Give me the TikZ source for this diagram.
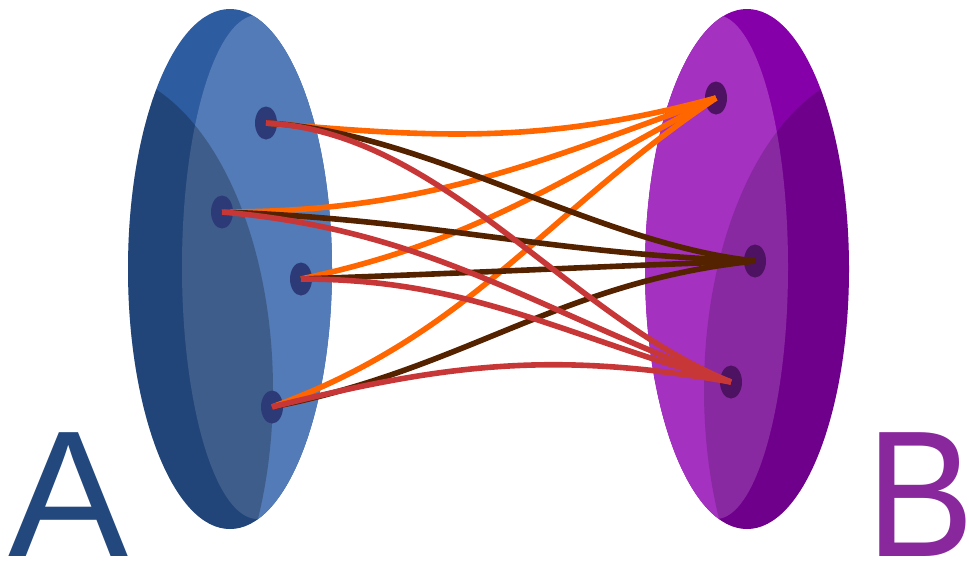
\documentclass[tikz,border=0pt]{standalone}
\usepackage{fontspec}
\setmainfont{Liberation Sans}
\usetikzlibrary{shapes.geometric}
\definecolor{blueback}{HTML}{2D5CA0}
\definecolor{bluefront}{HTML}{537BB7}
\definecolor{bluedot}{HTML}{2C3A78}
\definecolor{blueletter}{HTML}{22487E}
\definecolor{purpleback}{HTML}{8500A8}
\definecolor{purplefront}{HTML}{A431C0}
\definecolor{purpledot}{HTML}{4E1263}
\definecolor{purpleletter}{HTML}{88289C}
\definecolor{linkorange}{HTML}{FF6600}
\definecolor{linkbrown}{HTML}{552200}
\definecolor{linkred}{HTML}{C83737}
\begin{document}
\begin{tikzpicture}[x=0.5pt,y=-0.5pt,
  dot/.style={ellipse, inner sep=0, minimum width=11pt, minimum height=16.5pt},
  link/.style={line width=2.8pt},
  letter/.style={anchor=base, inner sep=0, font=\fontsize{90}{90}\selectfont}]
\useasboundingbox (0,0) rectangle (969,563);
% set A
\fill[blueback] (230,269) ellipse [x radius=102, y radius=260];
\begin{scope}
\clip (230,269) ellipse [x radius=102, y radius=260];
\fill[bluefront] (257.5,267) ellipse [x radius=75.5, y radius=252];
\fill[black, opacity=0.24] (95,390) ellipse [x radius=178, y radius=320];
\end{scope}
% set B
\fill[purpleback] (747,269) ellipse [x radius=102, y radius=260];
\begin{scope}
\clip (747,269) ellipse [x radius=102, y radius=260];
\fill[purplefront] (716,267) ellipse [x radius=72, y radius=252];
\fill[black, opacity=0.16] (882,390) ellipse [x radius=178, y radius=320];
\end{scope}
\node[dot, fill=bluedot] (a1) at (266,123) {};
\node[dot, fill=bluedot] (a2) at (222,212) {};
\node[dot, fill=bluedot] (a3) at (301,279) {};
\node[dot, fill=bluedot] (a4) at (272,407) {};
\node[dot, fill=purpledot] (b1) at (716,98) {};
\node[dot, fill=purpledot] (b2) at (755,261) {};
\node[dot, fill=purpledot] (b3) at (731,382) {};
% links to b1
\draw[link, linkorange] (a1.center) to[out=-5, in=195] (b1.center);
\draw[link, linkorange] (a2.center) to[out=0, in=200] (b1.center);
\draw[link, linkorange] (a3.center) to[out=12, in=208] (b1.center);
\draw[link, linkorange] (a4.center) to[out=20, in=214] (b1.center);
% links to b2
\draw[link, linkbrown] (a1.center) to[out=-3, in=174, looseness=0.8] (b2.center);
\draw[link, linkbrown] (a2.center) to[out=-2, in=178] (b2.center);
\draw[link, linkbrown] (a3.center) to[out=2, in=182] (b2.center);
\draw[link, linkbrown] (a4.center) to[out=11, in=186] (b2.center);
% links to b3
\draw[link, linkred] (a1.center) to[out=-3, in=158, looseness=0.85] (b3.center);
\draw[link, linkred] (a2.center) to[out=-5, in=160] (b3.center);
\draw[link, linkred] (a3.center) to[out=0, in=165] (b3.center);
\draw[link, linkred] (a4.center) to[out=14, in=170] (b3.center);
\node[letter, text=blueletter] (setA) at (69,556) {A};
\node[letter, text=purpleletter, xscale=0.9] (setB) at (921,556) {B};
\end{tikzpicture}
\end{document}
